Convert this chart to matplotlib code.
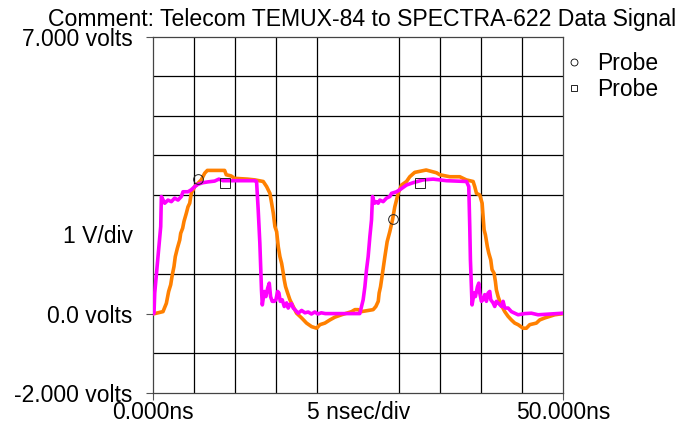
import numpy as np
import matplotlib.pyplot as plt
import matplotlib as mpl
from matplotlib.lines import Line2D

mpl.rcParams.update({
    'font.family': ['Liberation Sans', 'DejaVu Sans'],
    'font.size': 16.5,
})

# ---------------------------------------------------------------------------
# Traces (time in ns, level in volts)
# ---------------------------------------------------------------------------
orange_t = [0.0, 0.17, 1.18, 1.59, 1.87, 2.12, 2.28, 2.52, 2.68, 2.93, 3.22, 3.34,
            3.58, 3.74, 4.03, 4.23, 4.44, 4.63, 5.05, 5.85, 6.27, 6.59, 8.7, 8.9,
            9.5, 9.9, 11.5, 12.4, 13.41, 13.83, 14.23, 14.44, 14.64, 14.84, 15.05,
            15.25, 15.45, 15.66, 15.86, 15.98, 16.14, 16.39, 16.67, 17.07, 17.48,
            18.1, 18.7, 19.32, 19.93, 20.33, 20.94, 21.55, 22.16, 22.97, 24.2,
            24.6, 25.0, 25.4, 26.83, 27.16, 27.45, 27.56, 27.73, 27.97, 28.26,
            28.54, 28.86, 29.19, 29.47, 29.68, 29.88, 30.29, 30.9, 31.3, 31.9,
            33.3, 34.56, 34.96, 36.18, 37.4, 38.2, 39.03, 39.23, 39.44, 39.84,
            40.13, 40.25, 40.37, 40.53, 40.77, 40.94, 41.18, 41.34, 41.59, 41.75,
            41.87, 42.08, 42.28, 42.56, 42.89, 43.3, 43.7, 44.11, 44.52, 45.13,
            45.53, 45.94, 46.75, 47.16, 47.77, 48.38, 48.99, 50.0]
orange_v = [0.0, 0.0, 0.05, 0.26, 0.56, 0.73, 0.94, 1.19, 1.44, 1.65, 1.86, 2.03,
            2.16, 2.33, 2.54, 2.70, 2.79, 3.04, 3.21, 3.38, 3.55, 3.62, 3.62, 3.51,
            3.48, 3.42, 3.40, 3.38, 3.34, 3.21, 3.04, 2.79, 2.54, 2.20, 2.07,
            1.69, 1.44, 1.27, 1.02, 0.85, 0.68, 0.52, 0.35, 0.18, 0.01,
            -0.11, -0.24, -0.33, -0.37, -0.28, -0.24, -0.16, -0.09, -0.03, 0.05,
            0.10, 0.10, 0.05, 0.10, 0.18, 0.31, 0.52, 0.68, 1.02, 1.44,
            1.82, 2.07, 2.37, 2.70, 2.87, 3.04, 3.25, 3.34, 3.46, 3.57,
            3.63, 3.56, 3.51, 3.46, 3.46, 3.38, 3.34, 3.21, 3.04, 3.00,
            2.79, 2.45, 2.12, 1.99, 1.69, 1.53, 1.36, 1.11, 1.02, 0.81,
            0.60, 0.43, 0.31, 0.18, 0.05, -0.07, -0.16, -0.24, -0.28, -0.37,
            -0.37, -0.28, -0.24, -0.16, -0.11, -0.07, -0.03, 0.0]

magenta_t = [0.0, 0.08, 0.17, 0.57, 0.9, 0.98, 1.39, 1.79, 2.2, 2.6, 3.01, 3.42,
             3.62, 4.23, 4.63, 5.05, 5.45, 6.06, 6.67, 7.48, 8.0, 8.5, 9.5, 12.4,
             12.6, 12.8, 13.0, 13.2, 13.3, 13.54, 13.74, 13.95, 14.15, 14.31,
             14.51, 14.76, 14.96, 15.17, 15.33, 15.49, 15.73, 15.98, 16.27, 16.46,
             16.67, 16.87, 17.07, 17.28, 17.68, 18.1, 18.5, 18.9, 19.3, 19.7,
             20.1, 20.5, 21.0, 25.2, 25.61, 25.82, 26.02, 26.22, 26.43, 26.63,
             26.75, 27.0, 27.24, 27.44, 27.65, 28.05, 28.46, 28.87, 29.07, 29.68,
             30.08, 30.49, 30.9, 31.71, 32.93, 34.15, 35.78, 38.22, 38.5, 38.62,
             38.7, 38.82, 38.9, 39.15, 39.31, 39.56, 39.72, 39.84, 40.04, 40.25,
             40.45, 40.65, 40.86, 41.06, 41.18, 41.47, 41.67, 41.87, 42.08, 42.49,
             42.69, 42.89, 43.3, 43.7, 44.11, 44.52, 45.33, 46.14, 46.96, 50.0]
magenta_v = [0.0, 0.01, 0.52, 1.44, 2.20, 2.96, 2.79, 2.87, 2.83, 2.92, 2.87, 2.96,
             3.08, 3.08, 3.13, 3.21, 3.27, 3.31, 3.33, 3.35, 3.40, 3.36, 3.36, 3.36,
             3.34, 2.62, 1.78, 0.60, 0.22, 0.56, 0.43, 0.64, 0.77, 0.43,
             0.31, 0.31, 0.35, 0.56, 0.52, 0.31, 0.35, 0.18, 0.27, 0.14,
             0.23, 0.25, 0.14, 0.10, 0.01, 0.08, 0.02, 0.04, -0.01, 0.04,
             -0.01, 0.02, 0.0, 0.0, 0.35, 0.68, 1.11, 1.44, 1.95, 2.37,
             2.96, 2.79, 2.83, 2.79, 2.87, 2.83, 2.92, 2.96, 3.04, 3.08,
             3.13, 3.19, 3.25, 3.31, 3.38, 3.40, 3.36, 3.34, 3.21, 2.20,
             1.36, 0.68, 0.22, 0.52, 0.43, 0.68, 0.77, 0.52, 0.31, 0.35,
             0.48, 0.31, 0.52, 0.56, 0.35, 0.27, 0.18, 0.31, 0.27, 0.18,
             0.31, 0.14, 0.14, 0.05, 0.01, -0.03, 0.0, 0.01, -0.03, 0.01]

# probe marker positions
circle_t = [5.5, 29.27]
circle_v = [3.40, 2.39]
square_t = [8.78, 32.52]
square_v = [3.30, 3.31]

title = 'Comment: Telecom TEMUX-84 to SPECTRA-622 Data Signal'
ytick_vals = [7, 2, 0, -2]
ytick_labels = ['7.000 volts', '1 V/div', '0.0 volts', '-2.000 volts']
xtick_vals = [0, 25, 50]
xtick_labels = ['0.000ns', '5 nsec/div', '50.000ns']

# ---------------------------------------------------------------------------
# Figure
# ---------------------------------------------------------------------------
fig = plt.figure(figsize=(6.83, 4.25), dpi=100)
ax = fig.add_axes([0.2245, 0.076, 0.5998, 0.8376])

ax.plot(orange_t, orange_v, color='#FF8000', lw=2.6, zorder=3,
        solid_joinstyle='round')
ax.plot(magenta_t, magenta_v, color='#FF00FF', lw=2.6, zorder=4,
        solid_joinstyle='round')
ax.plot(circle_t, circle_v, 'o', ms=7, mfc='none', mec='#222222', mew=0.7,
        zorder=5)
ax.plot(square_t, square_v, 's', ms=6.5, mfc='none', mec='#222222', mew=0.7,
        zorder=5)

ax.set_xlim(0, 50)
ax.set_ylim(-2, 7)

ax.set_xticks(xtick_vals)
ax.set_xticklabels(xtick_labels)
ax.set_yticks(ytick_vals)
ax.set_yticklabels(ytick_labels)
ax.set_xticks(np.arange(0, 51, 5), minor=True)
ax.set_yticks(np.arange(-2, 8, 1), minor=True)
ax.tick_params(which='minor', length=0)
ax.tick_params(which='major', direction='out', length=5, width=0.8,
               color='#555555')
ax.tick_params(axis='y', pad=10)
ax.tick_params(axis='x', pad=1)
ax.yaxis.get_major_ticks()[1].tick1line.set_visible(False)
ax.xaxis.get_major_ticks()[1].tick1line.set_visible(False)

ax.grid(which='minor', color='black', lw=0.9)
ax.set_axisbelow(True)
for s in ax.spines.values():
    s.set_color('#444444')
    s.set_linewidth(0.9)

ax.set_title(title, pad=8, fontsize=16.6, x=0.51)

handles = [
    Line2D([], [], marker='o', ls='none', ms=5, mfc='none', mec='black', mew=0.6),
    Line2D([], [], marker='s', ls='none', ms=5, mfc='none', mec='black', mew=0.6),
]
ax.legend(handles, ['Probe', 'Probe'], loc='upper left',
          bbox_to_anchor=(0.965, 0.995), frameon=False, handlelength=1.0,
          handletextpad=0.5, labelspacing=0.1, borderaxespad=0.2)

fig.savefig('out.png', dpi=100, facecolor='white')
